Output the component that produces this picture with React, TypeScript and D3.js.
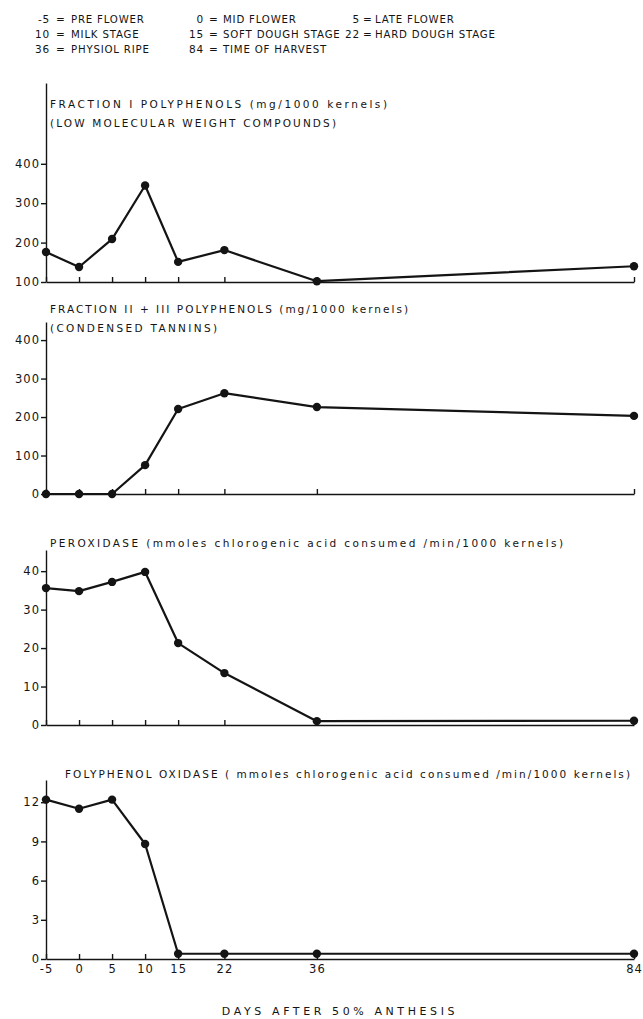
import * as d3 from "d3";
import React, { useEffect, useRef } from "react";

// days after 50% anthesis
const days = [-5, 0, 5, 10, 15, 22, 36, 84];
const dayLabels = ["-5", "0", "5", "10", "15", "22", "36", "84"];

// stage legend
const stageCodes = ["-5", "0", "5", "10", "15", "22", "36", "84"];
const stageNames = [
  "PRE FLOWER", "MID FLOWER", "LATE FLOWER",
  "MILK STAGE", "SOFT DOUGH STAGE", "HARD DOUGH STAGE",
  "PHYSIOL RIPE", "TIME OF HARVEST",
];

// series, one value per day
const fraction1 = [176, 138, 209, 345, 151, 181, 102, 140];
const fraction23 = [0, 0, 0, 75, 221, 262, 226, 203];
const peroxidase = [35.6, 34.8, 37.2, 39.8, 21.3, 13.5, 1.0, 1.1];
const polyphenolOxidase = [12.2, 11.5, 12.2, 8.8, 0.4, 0.4, 0.4, 0.4];

// y axis ticks
const ticks1 = [100, 200, 300, 400];
const ticks23 = [0, 100, 200, 300, 400];
const ticksPer = [0, 10, 20, 30, 40];
const ticksPpo = [0, 3, 6, 9, 12];

const titles1 = ["FRACTION I POLYPHENOLS (mg/1000 kernels)", "(LOW MOLECULAR WEIGHT COMPOUNDS)"];
const titles23 = ["FRACTION II + III POLYPHENOLS (mg/1000 kernels)", "(CONDENSED TANNINS)"];
const titlesPer = ["PEROXIDASE (mmoles chlorogenic acid consumed /min/1000 kernels)"];
const titlesPpo = ["FOLYPHENOL OXIDASE ( mmoles chlorogenic acid consumed /min/1000 kernels)"];

const FONT = "'DejaVu Sans', sans-serif";
const INK = "#141414";

export default function App() {
  const ref = useRef<SVGSVGElement | null>(null);

  useEffect(() => {
    const svg = d3.select(ref.current);
    svg.selectAll("*").remove();

    const x = d3.scaleLinear().domain([-5, 84]).range([46, 634]);

    // legend: code right-aligned, then "=", then the stage name
    const codeEnd = [50, 204, 360];
    const nameStart = [71, 223, 375];
    stageCodes.forEach((code, i) => {
      const row = Math.floor(i / 3);
      const col = i % 3;
      const yy = 23 + row * 15;
      const g = svg.append("g").attr("font-family", FONT).attr("font-size", 10.5).attr("fill", INK);
      g.append("text").attr("x", codeEnd[col]).attr("y", yy).attr("text-anchor", "end").attr("letter-spacing", 0.8).text(code);
      g.append("text").attr("x", (codeEnd[col] + nameStart[col]) / 2).attr("y", yy).attr("text-anchor", "middle").text("=");
      g.append("text").attr("x", nameStart[col]).attr("y", yy).attr("font-size", 10.2).attr("letter-spacing", 0.8).text(stageNames[i]);
    });

    const panels = [
      { values: fraction1, ticks: ticks1, domain: [100, 605], range: [282, 83], titles: titles1, titleX: 50, titleY: 108, titleW: [337, 286] },
      { values: fraction23, ticks: ticks23, domain: [0, 447], range: [494, 322], titles: titles23, titleX: 50, titleY: 313, titleW: [358, 167] },
      { values: peroxidase, ticks: ticksPer, domain: [0, 45.5], range: [725, 550], titles: titlesPer, titleX: 50, titleY: 547, titleW: [513] },
      { values: polyphenolOxidase, ticks: ticksPpo, domain: [0, 13.7], range: [959, 780], titles: titlesPpo, titleX: 65, titleY: 778, titleW: [565] },
    ];

    panels.forEach((p, pi) => {
      const y = d3.scaleLinear().domain(p.domain).range(p.range);
      const g = svg.append("g");

      const yAxis = g.append("g")
        .attr("transform", `translate(${x(-5)},0)`)
        .call(d3.axisLeft(y).tickValues(p.ticks).tickSizeInner(5).tickSizeOuter(0).tickPadding(1));

      const last = pi === panels.length - 1;
      const xAxis = g.append("g")
        .attr("transform", `translate(0,${p.range[0]})`)
        .call(
          d3.axisBottom(x)
            .tickValues(days)
            .tickSizeInner(-5)
            .tickSizeOuter(0)
            .tickPadding(6)
            .tickFormat((d, i) => (last ? dayLabels[i] : ""))
        );

      [yAxis, xAxis].forEach(a => {
        a.selectAll("path, line").attr("stroke", INK).attr("stroke-width", 1.4);
        a.selectAll("text").attr("fill", INK).attr("font-family", FONT).attr("font-size", 11.5).attr("letter-spacing", 1);
      });

      const line = d3.line<number>()
        .x((_, i) => x(days[i]))
        .y(d => y(d));

      g.append("path")
        .datum(p.values)
        .attr("fill", "none")
        .attr("stroke", INK)
        .attr("stroke-width", 2.2)
        .attr("stroke-linejoin", "round")
        .attr("d", line);

      g.selectAll("circle.pt")
        .data(p.values)
        .join("circle")
        .attr("class", "pt")
        .attr("cx", (_, i) => x(days[i]))
        .attr("cy", d => y(d))
        .attr("r", 4.2)
        .attr("fill", INK);

      p.titles.forEach((t, ti) => {
        g.append("text")
          .attr("x", p.titleX)
          .attr("y", p.titleY + ti * 19)
          .attr("font-family", FONT)
          .attr("font-size", 10.5)
          .attr("textLength", p.titleW[ti])
          .attr("lengthAdjust", "spacing")
          .attr("fill", INK)
          .text(t);
      });
    });

    svg.append("text")
      .attr("x", 340)
      .attr("y", 1015)
      .attr("text-anchor", "middle")
      .attr("font-family", FONT)
      .attr("font-size", 11)
      .attr("letter-spacing", 3.6)
      .attr("fill", INK)
      .text("DAYS AFTER 50% ANTHESIS");
  }, []);

  return (
    <svg
      ref={ref}
      width={643}
      height={1019}
      style={{ position: "absolute", left: 0, top: 0, background: "#fff" }}
    />
  );
}
